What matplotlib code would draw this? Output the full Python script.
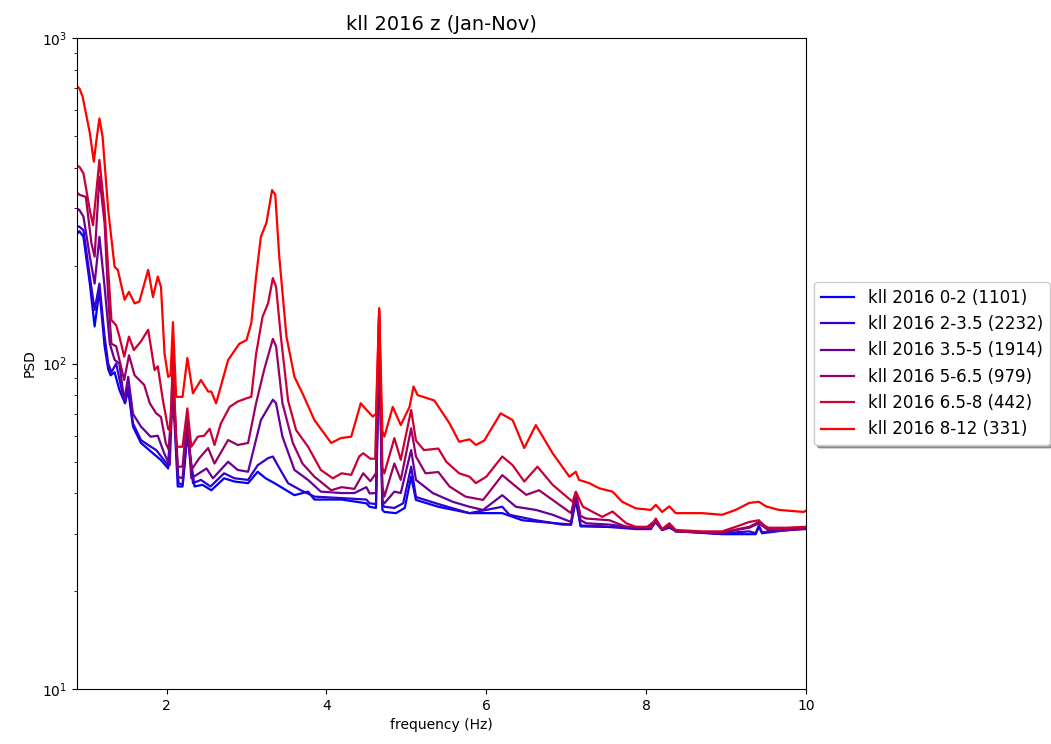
import numpy as np
import matplotlib
matplotlib.use('Agg')
import matplotlib.pyplot as plt

# band labels (wind/wave class, number of spectra)
labels = ['kll 2016 0-2 (1101)', 'kll 2016 2-3.5 (2232)', 'kll 2016 3.5-5 (1914)',
          'kll 2016 5-6.5 (979)', 'kll 2016 6.5-8 (442)', 'kll 2016 8-12 (331)']

f_0_2 = [0.88, 0.91, 0.96, 1.04, 1.1, 1.16, 1.225, 1.27, 1.3, 1.35, 1.41, 1.48, 1.52, 1.58, 1.68,
         1.83, 1.93, 2.02, 2.08, 2.14, 2.2, 2.26, 2.35, 2.45, 2.56, 2.72, 2.85, 3.02, 3.14, 3.24,
         3.35, 3.6, 3.77, 3.85, 4.19, 4.5, 4.54, 4.62, 4.66, 4.7, 4.725, 4.87, 4.98, 5.06, 5.12,
         5.4, 5.79, 6.2, 6.45, 6.87, 7.06, 7.12, 7.18, 7.45, 8.06, 8.12, 8.2, 8.29, 8.37, 8.5,
         8.95, 9.37, 9.41, 9.45, 10.0]
p_0_2 = [250, 255, 245, 176, 130, 168, 113, 96, 92, 94, 83, 75.5, 83, 64, 57,
         53, 50.5, 47.6, 82, 41.9, 41.9, 60, 41.9, 42.4, 40.8, 44.4, 43.4, 42.9, 46.5, 44.4,
         42.9, 39.4, 40.4, 38.2, 38.2, 37.2, 36.3, 36, 118, 35.5, 35, 34.7, 36, 44.9, 38.1,
         36.3, 34.7, 34.7, 33, 32.3, 32, 38, 31.6, 31.5, 31.3, 32.5, 30.8, 31.3, 30.6, 30.4,
         29.9, 29.9, 31.5, 30.1, 31.3]

f_2_35 = [0.88, 0.91, 0.96, 1.04, 1.1, 1.16, 1.225, 1.27, 1.31, 1.37, 1.43, 1.48, 1.52, 1.58, 1.68,
          1.77, 1.87, 1.95, 2.02, 2.08, 2.15, 2.2, 2.26, 2.33, 2.43, 2.55, 2.72, 2.85, 3.02, 3.14,
          3.27, 3.33, 3.39, 3.52, 3.68, 3.85, 4.19, 4.5, 4.54, 4.62, 4.66, 4.7, 4.725, 4.85, 4.96,
          5.06, 5.12, 5.4, 5.79, 6.2, 6.29, 6.62, 6.95, 7.06, 7.12, 7.18, 7.45, 7.87, 8.06, 8.12,
          8.2, 8.29, 8.37, 8.5, 8.9, 9.29, 9.37, 9.41, 9.45, 9.55, 10.0]
p_2_35 = [265, 263, 257, 185, 146, 176, 121, 100, 94, 100, 85, 75.5, 85, 65.5, 58.2,
          56.2, 54.2, 51.2, 48.7, 85, 42.9, 42.4, 62, 42.9, 43.9, 41.9, 46, 44.4, 43.9, 48.7,
          51.2, 51.8, 48.7, 42.9, 40.8, 39, 38.6, 38.2, 37.2, 37, 125, 37, 36.3, 36, 37.2,
          48.2, 38.9, 37, 34.7, 36.3, 34.3, 33, 32, 32, 39, 31.8, 31.6, 31, 31, 33,
          30.8, 31.6, 30.5, 30.5, 30, 30.5, 30.1, 31.8, 30.3, 30.5, 31.3]

f_35_5 = [0.88, 0.91, 0.96, 1.04, 1.1, 1.16, 1.225, 1.29, 1.35, 1.41, 1.47, 1.52, 1.58, 1.68, 1.8,
          1.89, 1.97, 2.04, 2.08, 2.14, 2.2, 2.26, 2.31, 2.5, 2.58, 2.77, 2.89, 3.02, 3.18, 3.33,
          3.37, 3.45, 3.6, 3.77, 3.93, 4.19, 4.35, 4.5, 4.54, 4.62, 4.66, 4.7, 4.725, 4.85, 4.93,
          5.06, 5.12, 5.33, 5.58, 5.79, 5.96, 6.2, 6.37, 6.62, 6.83, 7.06, 7.12, 7.18, 7.25, 7.54,
          7.87, 8.06, 8.12, 8.2, 8.29, 8.37, 8.5, 8.9, 9.29, 9.41, 9.55, 10.0]
p_35_5 = [300, 296, 283, 213, 176, 245, 172, 115, 102.6, 100, 77, 91, 70, 64, 59.6,
          60, 53, 48.7, 88, 44.9, 44.4, 65, 44.4, 47.6, 44.4, 49.9, 47.1, 46.5, 67, 77.4,
          75.5, 59.6, 47.1, 43.9, 40.4, 40, 40, 41.7, 39.9, 40, 140, 38, 37.2, 40.4, 40,
          54.2, 43.9, 40, 37.6, 36.3, 35.5, 39.4, 36.3, 35.5, 34.3, 32.6, 40, 33, 32.3, 32,
          31.3, 31.2, 33, 30.8, 31.8, 30.5, 30.5, 30.1, 31.3, 32.3, 30.5, 31]

f_5_65 = [0.88, 0.91, 0.99, 1.06, 1.1, 1.16, 1.225, 1.27, 1.31, 1.37, 1.47, 1.53, 1.6, 1.72, 1.79,
          1.87, 1.93, 1.99, 2.03, 2.08, 2.14, 2.2, 2.26, 2.31, 2.41, 2.52, 2.6, 2.77, 2.89, 3.02,
          3.12, 3.22, 3.33, 3.37, 3.45, 3.58, 3.7, 3.85, 4.06, 4.19, 4.35, 4.46, 4.55, 4.62, 4.66,
          4.7, 4.725, 4.85, 4.93, 5.06, 5.12, 5.24, 5.4, 5.54, 5.74, 5.96, 6.2, 6.37, 6.5, 6.66,
          6.83, 7.06, 7.12, 7.18, 7.25, 7.54, 7.75, 8.0, 8.12, 8.2, 8.29, 8.37, 8.9, 9.29, 9.41,
          9.55, 10.0]
p_5_65 = [335, 330, 325, 234, 213, 375, 269, 160, 115, 113, 89, 106, 92, 86, 75.5,
          70.3, 68.5, 57, 54.2, 95, 48.2, 48.2, 70, 47.1, 51.2, 55, 49.3, 58.2, 56.2, 57,
          75.5, 95.5, 119, 113, 75.5, 57, 49.3, 44.9, 40.8, 41.7, 41.2, 46, 43.5, 46, 145,
          42, 39, 49.3, 43.9, 63.2, 51.8, 46, 46.4, 41.9, 39, 38.1, 45.4, 41.9, 39.5, 40.8,
          38.1, 34.7, 40, 34, 33.4, 33, 31.5, 31.3, 33, 30.8, 31.8, 30.5, 30.1, 31.5, 32.6,
          31, 31.3]

f_65_8 = [0.88, 0.91, 0.96, 1.04, 1.08, 1.16, 1.225, 1.27, 1.31, 1.37, 1.41, 1.47, 1.53, 1.59, 1.68,
          1.77, 1.85, 1.89, 1.955, 2.02, 2.05, 2.08, 2.12, 2.2, 2.26, 2.31, 2.39, 2.47, 2.54, 2.6,
          2.68, 2.79, 2.89, 3.0, 3.06, 3.12, 3.2, 3.27, 3.33, 3.37, 3.43, 3.52, 3.62, 3.77, 3.93,
          4.08, 4.19, 4.31, 4.41, 4.46, 4.55, 4.61, 4.66, 4.7, 4.725, 4.85, 4.93, 5.06, 5.12, 5.22,
          5.4, 5.5, 5.66, 5.79, 5.87, 6.0, 6.2, 6.33, 6.475, 6.64, 6.83, 7.08, 7.12, 7.21, 7.45,
          7.58, 7.75, 7.87, 8.06, 8.12, 8.2, 8.29, 8.37, 8.7, 8.95, 9.12, 9.29, 9.41, 9.5, 9.75,
          10.0]
p_65_8 = [405, 402, 384, 296, 266, 422, 296, 194, 136, 131, 121, 105, 121, 110, 117,
          127, 95.5, 98, 77, 63, 62, 110, 55.5, 55.5, 72.8, 55.5, 59.6, 60, 63, 56.2,
          65.5, 73.6, 76.4, 78.2, 79, 107, 139, 153, 183, 172, 121, 77, 62.5, 55.5, 47.1,
          44.4, 46, 45.5, 51.8, 53, 51, 51, 146, 48, 46, 59, 50.6, 72, 58, 54.2,
          54.8, 49.9, 46, 44.9, 42.9, 44.9, 51.8, 48.7, 43.4, 48.2, 42.4, 37.6, 40.4, 36.3, 33.8,
          35.1, 32.3, 31.5, 31.5, 33.4, 31, 32.3, 30.8, 30.5, 30.5, 31.5, 32.6, 33, 31.3, 31.3,
          31.5]

f_8_12 = [0.88, 0.91, 0.95, 1.04, 1.09, 1.12, 1.16, 1.2, 1.27, 1.35, 1.39, 1.475, 1.53, 1.6, 1.66,
          1.77, 1.83, 1.89, 1.93, 1.975, 2.02, 2.05, 2.08, 2.12, 2.2, 2.26, 2.33, 2.43, 2.52, 2.56,
          2.62, 2.77, 2.91, 3.0, 3.06, 3.12, 3.18, 3.25, 3.32, 3.36, 3.41, 3.5, 3.6, 3.7, 3.85,
          4.06, 4.18, 4.31, 4.43, 4.48, 4.58, 4.62, 4.66, 4.7, 4.725, 4.83, 4.93, 5.04, 5.09, 5.14,
          5.35, 5.54, 5.66, 5.79, 5.87, 5.975, 6.18, 6.33, 6.475, 6.62, 6.83, 7.04, 7.12, 7.16, 7.29,
          7.41, 7.58, 7.7, 7.87, 8.06, 8.12, 8.2, 8.29, 8.37, 8.7, 8.95, 9.12, 9.29, 9.41, 9.5,
          9.66, 9.97, 10.0]
p_8_12 = [710, 700, 660, 511, 417, 480, 566, 497, 296, 198, 194, 157, 166, 153, 155,
          194, 160, 185, 172, 107, 91, 92, 134, 79, 79, 104, 81, 89, 82, 82,
          75.5, 102.5, 115, 118, 133, 185, 245, 271, 341, 330, 213, 121, 91, 81, 67,
          57, 59, 59.6, 75.5, 73, 68.7, 70, 148, 62, 59.6, 73.6, 64.7, 73.6, 85, 80,
          77, 65.5, 57.5, 58.5, 56.2, 58, 70.3, 67, 55, 64.7, 53, 44.9, 46.5, 43.9, 42.9,
          41.4, 40.4, 37.6, 35.9, 35.5, 36.8, 35, 36.4, 34.7, 34.7, 34.3, 35.5, 37.3, 37.6, 36.4,
          35.5, 35, 35.3]

freqs = [f_0_2, f_2_35, f_35_5, f_5_65, f_65_8, f_8_12]
psds = [p_0_2, p_2_35, p_35_5, p_5_65, p_65_8, p_8_12]

fig = plt.figure(figsize=(10.51, 7.44), dpi=100)
ax = fig.add_subplot(111)
fig.subplots_adjust(left=0.0733, right=0.7669, bottom=0.0739, top=0.9489)

n = len(labels)
for i in range(n):
    c = (i / (n - 1), 0, 1 - i / (n - 1))
    ax.plot(freqs[i], psds[i], color=c, lw=1.6, label=labels[i])

ax.set_yscale('log')
ax.set_xlim(0.88, 10)
ax.set_ylim(10, 1000)
ax.set_xlabel('frequency (Hz)', fontsize=10)
ax.set_ylabel('PSD', fontsize=10)
ax.set_title('kll 2016 z (Jan-Nov)', fontsize=14)
ax.tick_params(labelsize=10)
ax.legend(loc='center left', bbox_to_anchor=(1, 0.5), fontsize=12,
          shadow=True, fancybox=True, framealpha=1)

plt.savefig('out.png', dpi=100)
